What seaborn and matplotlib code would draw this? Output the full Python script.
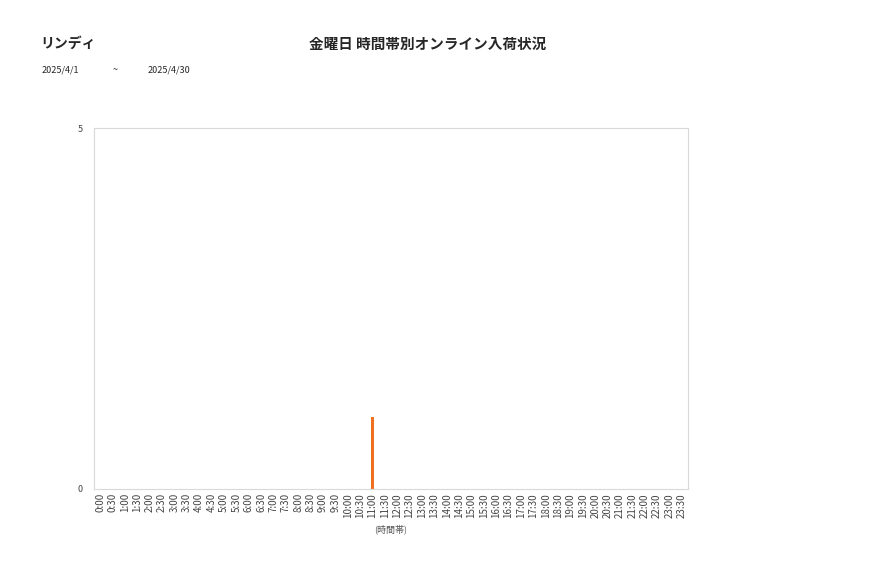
import matplotlib
matplotlib.use("Agg")
import matplotlib.pyplot as plt
import seaborn as sns
import pandas as pd

shop_name = "リンディ"
chart_title = "金曜日 時間帯別オンライン入荷状況"
date_from = "2025/4/1"
date_to = "2025/4/30"
x_label = "(時間帯)"
time_slots = [f"{h}:{m:02d}" for h in range(24) for m in (0, 30)]
counts = [0] * 48
counts[22] = 1  # 11:00

sns.set_theme(style="white")
plt.rcParams['font.family'] = ['Noto Sans CJK JP', 'DejaVu Sans']

df = pd.DataFrame({"slot": time_slots, "count": counts})

fig = plt.figure(figsize=(8.77, 5.78), dpi=100)
ax = fig.add_axes([0.1072, 0.154, 0.6773, 0.6245])
sns.barplot(data=df, x="slot", y="count", color="#F07022", width=0.28,
            saturation=1, ax=ax, order=time_slots, linewidth=0)
ax.set_ylim(0, 5)
ax.set_yticks([0, 5])
ax.set_xlim(-0.5, 47.5)
ax.tick_params(axis='y', labelsize=6.5, colors='#444444', length=0, pad=8)
ax.tick_params(axis='x', labelsize=7, colors='#444444', length=0, pad=3, rotation=90)
ax.set_xlabel(x_label, fontsize=6.5, color='#555555', labelpad=5)
ax.set_ylabel("")
for s in ax.spines.values():
    s.set_color('#d9d9d9')
    s.set_linewidth(0.8)

fig.text(40/877, 1-44/578, shop_name, fontsize=10, fontweight='bold', va='center', ha='left')
fig.text(428/877, 1-44/578, chart_title, fontsize=10.5, fontweight='bold', va='center', ha='center')
fig.text(42/877, 1-70/578, date_from, fontsize=6.5, va='center', ha='left')
fig.text(113/877, 1-70/578, "~", fontsize=6.5, va='center', ha='left')
fig.text(148/877, 1-70/578, date_to, fontsize=6.5, va='center', ha='left')

fig.savefig("out.png", dpi=100)
